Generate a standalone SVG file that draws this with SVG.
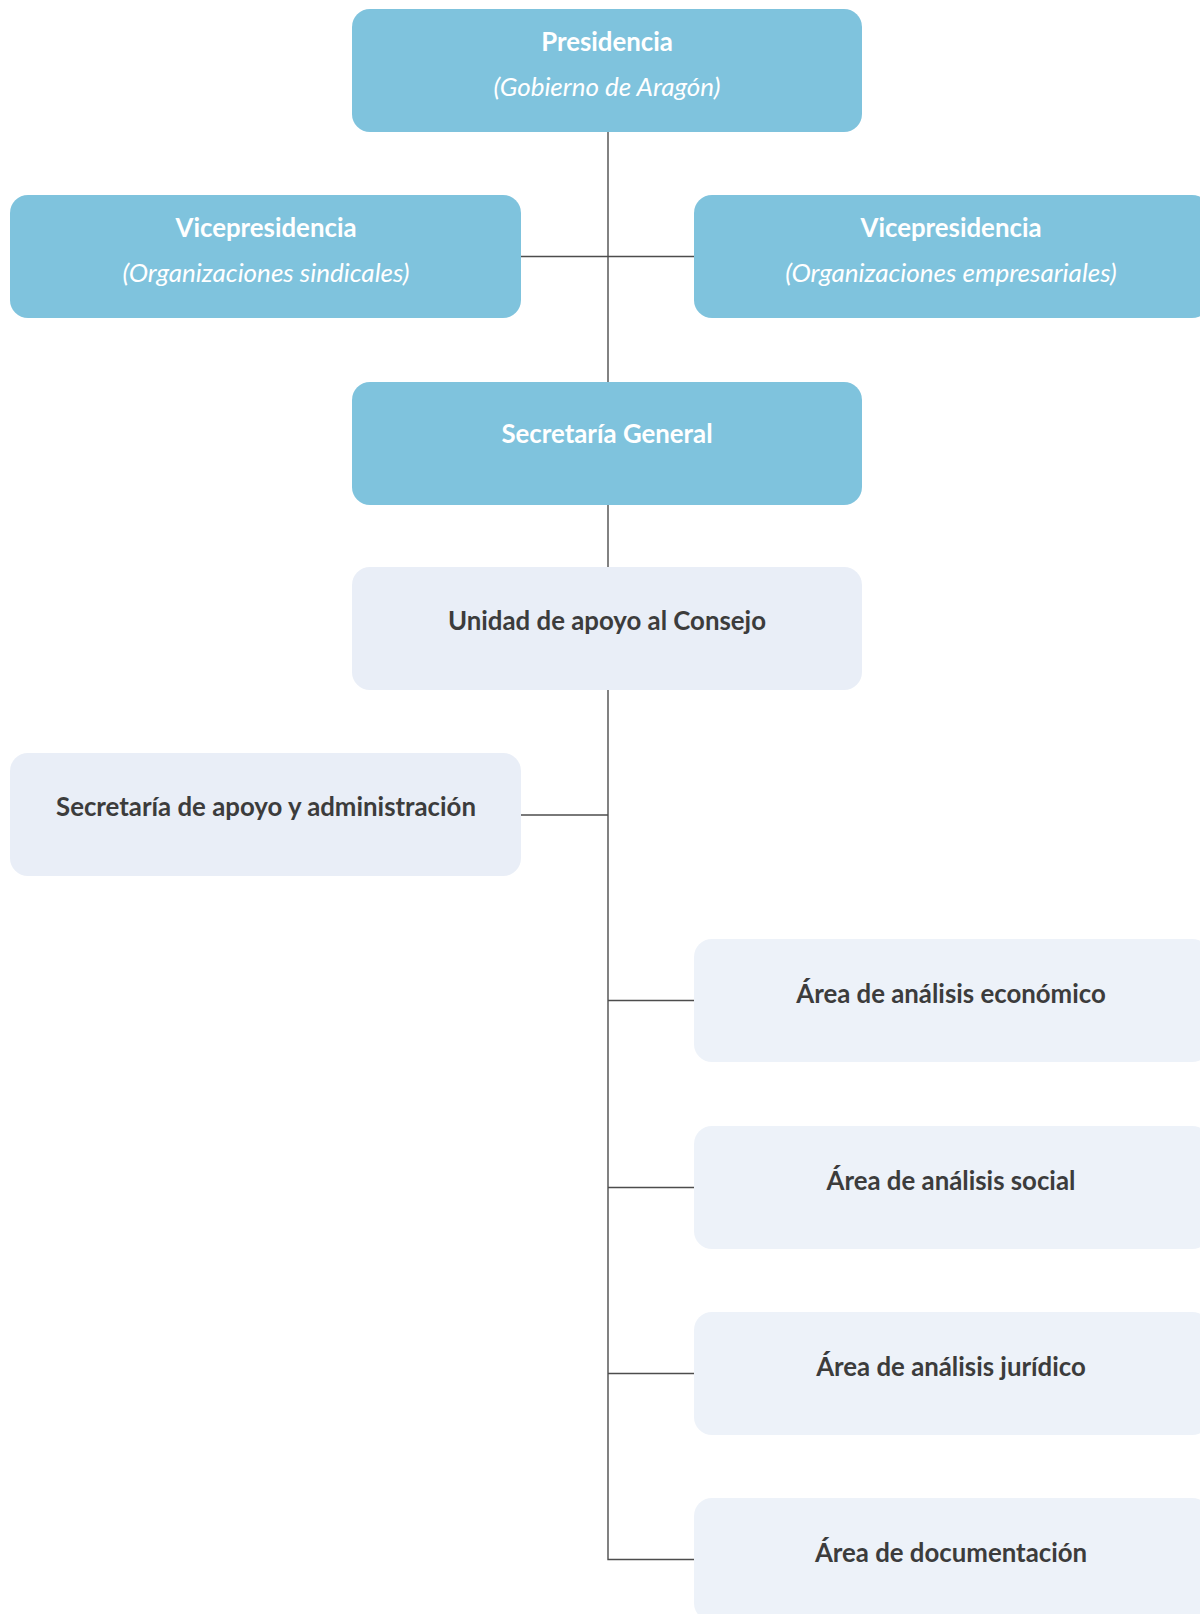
<svg xmlns="http://www.w3.org/2000/svg" width="1200" height="1614" viewBox="0 0 1200 1614">
<style>
.blue{fill:#7fc3dd}
.light{fill:#e9eef7}
.lighter{fill:#edf2f9}
.t{font-family:Lato,"Open Sans","Liberation Sans",sans-serif;font-weight:bold;font-size:25.8px;text-anchor:middle}
.w{fill:#ffffff}
.d{fill:#3c3c3c}
.i{font-family:Lato,"Open Sans","Liberation Sans",sans-serif;font-style:italic;font-size:26px;text-anchor:middle;fill:#ffffff}
.c{stroke:#4d4d4d;stroke-width:1.4;fill:none}
</style>
<rect width="1200" height="1614" fill="#ffffff"/>
<g id="connectors">
<line class="c" x1="608" y1="132" x2="608" y2="382"/>
<line class="c" x1="521" y1="256.5" x2="694" y2="256.5"/>
<line class="c" x1="608" y1="505" x2="608" y2="567"/>
<polyline class="c" points="608,690 608,1559.5 694,1559.5"/>
<line class="c" x1="521" y1="815" x2="608" y2="815"/>
<line class="c" x1="608" y1="1000.5" x2="694" y2="1000.5"/>
<line class="c" x1="608" y1="1187.5" x2="694" y2="1187.5"/>
<line class="c" x1="608" y1="1373.5" x2="694" y2="1373.5"/>
</g>
<g id="presidencia">
<rect class="blue" x="352" y="9" width="510" height="123" rx="18"/>
<text class="t w" x="607" y="51">Presidencia</text>
<text class="i" x="607" y="96">(Gobierno de Aragón)</text>
</g>
<g id="vice-sindicales">
<rect class="blue" x="10" y="195" width="511" height="123" rx="18"/>
<text class="t w" x="266" y="237">Vicepresidencia</text>
<text class="i" x="266" y="282">(Organizaciones sindicales)</text>
</g>
<g id="vice-empresariales">
<rect class="blue" x="694" y="195" width="516" height="123" rx="18"/>
<text class="t w" x="951" y="237">Vicepresidencia</text>
<text class="i" x="951" y="282">(Organizaciones empresariales)</text>
</g>
<g id="secretaria-general">
<rect class="blue" x="352" y="382" width="510" height="123" rx="18"/>
<text class="t w" x="607" y="443">Secretaría General</text>
</g>
<g id="unidad-apoyo">
<rect class="light" x="352" y="567" width="510" height="123" rx="18"/>
<text class="t d" x="607" y="630">Unidad de apoyo al Consejo</text>
</g>
<g id="secretaria-apoyo">
<rect class="light" x="10" y="753" width="511" height="123" rx="18"/>
<text class="t d" x="266" y="816">Secretaría de apoyo y administración</text>
</g>
<g id="area-economico">
<rect class="lighter" x="694" y="939" width="516" height="123" rx="18"/>
<text class="t d" x="951" y="1003">Área de análisis económico</text>
</g>
<g id="area-social">
<rect class="lighter" x="694" y="1126" width="516" height="123" rx="18"/>
<text class="t d" x="951" y="1190">Área de análisis social</text>
</g>
<g id="area-juridico">
<rect class="lighter" x="694" y="1312" width="516" height="123" rx="18"/>
<text class="t d" x="951" y="1376">Área de análisis jurídico</text>
</g>
<g id="area-documentacion">
<rect class="lighter" x="694" y="1498" width="516" height="123" rx="18"/>
<text class="t d" x="951" y="1562">Área de documentación</text>
</g>
</svg>
